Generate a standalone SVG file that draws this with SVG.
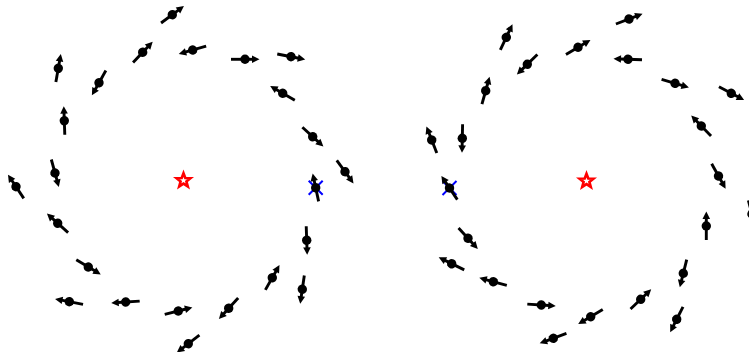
<svg xmlns="http://www.w3.org/2000/svg" xmlns:xlink="http://www.w3.org/1999/xlink" width="749" height="352" viewBox="0 0 749 352">
<style>
.x{stroke:#0000ff;stroke-width:2;fill:none}
.star{fill:none;stroke:#ff0000;stroke-width:2.6;stroke-linejoin:miter}
</style>
<defs>
<g id="spin">
<line x1="-14" y1="0" x2="8" y2="0" stroke="#000" stroke-width="2.9"/>
<polygon points="7,-3.8 14.5,0 7,3.8" fill="#000"/>
<circle r="4.7" fill="#000"/>
</g>
<polygon id="starshape" points="0,-7.3 1.8,-2.45 6.94,-2.25 2.9,0.94 4.29,5.9 0,3.05 -4.29,5.9 -2.9,0.94 -6.94,-2.25 -1.8,-2.45"/>
<path id="xmark" d="M-7,-7L7,7M-7,7L7,-7"/>
</defs>
<rect width="749" height="352" fill="#fff"/>
<g id="centers">
<use id="star-left" class="star" href="#starshape" transform="translate(183.5,180.5)"/>
<use id="star-right" class="star" href="#starshape" transform="translate(586.5,181)"/>
</g>
<g id="markers">
<use id="x-left" class="x" href="#xmark" transform="translate(315.7,187.7)"/>
<use id="x-right" class="x" href="#xmark" transform="translate(449.5,188)"/>
</g>
<g id="left-ring">
<g id="L1" transform="translate(172.3,14.7) rotate(-36.5)"><use href="#spin"/></g>
<g id="L2" transform="translate(142.7,52.3) rotate(-46.5)"><use href="#spin"/></g>
<g id="L3" transform="translate(192.7,50) rotate(164.1)"><use href="#spin"/></g>
<g id="L4" transform="translate(245,59.3) rotate(0)"><use href="#spin"/></g>
<g id="L5" transform="translate(291,56.7) rotate(11.2)"><use href="#spin"/></g>
<g id="L6" transform="translate(58.3,68.3) rotate(-80)"><use href="#spin"/></g>
<g id="L7" transform="translate(99,82.7) rotate(119.4)"><use href="#spin"/></g>
<g id="L8" transform="translate(282.7,93.3) rotate(-149.8)"><use href="#spin"/></g>
<g id="L9" transform="translate(64.3,120.7) rotate(-92)"><use href="#spin"/></g>
<g id="L10" transform="translate(312.7,136.7) rotate(42.5)"><use href="#spin"/></g>
<g id="L11" transform="translate(345,171.7) rotate(54)"><use href="#spin"/></g>
<g id="L12" transform="translate(55,173) rotate(74.7)"><use href="#spin"/></g>
<g id="L13" transform="translate(16,186.7) rotate(-123.7)"><use href="#spin"/></g>
<g id="L14" transform="translate(57.7,223.3) rotate(-138)"><use href="#spin"/></g>
<g id="L15" transform="translate(88.3,267) rotate(30.8)"><use href="#spin"/></g>
<g id="L16" transform="translate(69.3,301.7) rotate(-169.1)"><use href="#spin"/></g>
<g id="L17" transform="translate(125.7,302) rotate(176.3)"><use href="#spin"/></g>
<g id="L18" transform="translate(178.3,311) rotate(-14.3)"><use href="#spin"/></g>
<g id="L19" transform="translate(228.7,308.3) rotate(132.5)"><use href="#spin"/></g>
<g id="L20" transform="translate(188.3,343.7) rotate(142.4)"><use href="#spin"/></g>
<g id="L21" transform="translate(272.3,277.7) rotate(-60.3)"><use href="#spin"/></g>
<g id="L22" transform="translate(302.3,289.3) rotate(98.3)"><use href="#spin"/></g>
<g id="L23" transform="translate(306.7,240.3) rotate(88)"><use href="#spin"/></g>
<g id="L24" transform="translate(315.7,187.7) rotate(-102)"><use href="#spin"/></g>
</g>
<g id="right-ring">
<g id="R1" transform="translate(629,19) rotate(-20.9)"><use href="#spin"/></g>
<g id="R2" transform="translate(506.3,37.3) rotate(-64.8)"><use href="#spin"/></g>
<g id="R3" transform="translate(578,47.3) rotate(-30.8)"><use href="#spin"/></g>
<g id="R4" transform="translate(527.3,64.3) rotate(135.9)"><use href="#spin"/></g>
<g id="R5" transform="translate(628,59.3) rotate(-178)"><use href="#spin"/></g>
<g id="R6" transform="translate(675,83.3) rotate(16.5)"><use href="#spin"/></g>
<g id="R7" transform="translate(731.3,93.3) rotate(28)"><use href="#spin"/></g>
<g id="R8" transform="translate(485.7,90.7) rotate(-74.5)"><use href="#spin"/></g>
<g id="R9" transform="translate(701.3,126) rotate(-134)"><use href="#spin"/></g>
<g id="R10" transform="translate(431.7,140) rotate(-111.3)"><use href="#spin"/></g>
<g id="R11" transform="translate(462.3,138.3) rotate(91.2)"><use href="#spin"/></g>
<g id="R12" transform="translate(718.5,176) rotate(60.7)"><use href="#spin"/></g>
<g id="R13" transform="translate(449.5,188) rotate(-124)"><use href="#spin"/></g>
<g id="R14" transform="translate(468,238.3) rotate(47.5)"><use href="#spin"/></g>
<g id="R15" transform="translate(451.7,263.7) rotate(-153.7)"><use href="#spin"/></g>
<g id="R16" transform="translate(493.3,281.7) rotate(-164.7)"><use href="#spin"/></g>
<g id="R17" transform="translate(541.3,305) rotate(3.6)"><use href="#spin"/></g>
<g id="R18" transform="translate(553.3,338.3) rotate(159.7)"><use href="#spin"/></g>
<g id="R19" transform="translate(590.7,316.7) rotate(149.4)"><use href="#spin"/></g>
<g id="R20" transform="translate(640.7,299.3) rotate(-43.5)"><use href="#spin"/></g>
<g id="R21" transform="translate(676.7,319.3) rotate(116.7)"><use href="#spin"/></g>
<g id="R22" transform="translate(683.3,273.3) rotate(104)"><use href="#spin"/></g>
<g id="R23" transform="translate(706.3,226) rotate(-90)"><use href="#spin"/></g>
<g id="R24" transform="translate(752,214) rotate(75)"><use href="#spin"/></g>
</g>
</svg>
